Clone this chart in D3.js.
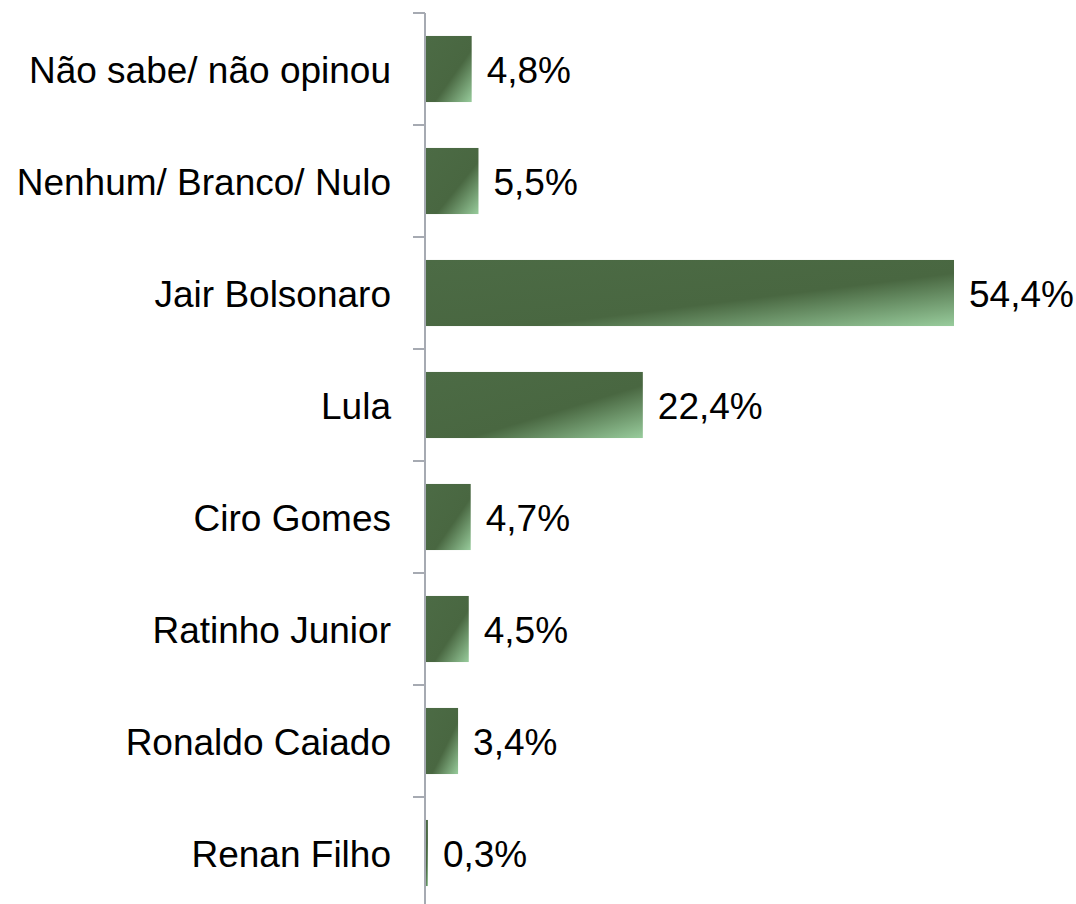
<!DOCTYPE html>
<html lang="pt">

<head>
    <meta charset="UTF-8">
    <title>Intenção de voto</title>
    <style>
        body { margin: 0; background: #fff; }
        text { font-family: "Liberation Sans", Arial, sans-serif; fill: #000; }
        .axis path, .axis line { stroke: #a6aab2; stroke-width: 2; fill: none; }
    </style>
</head>

<body>
    <div id="graph"></div>

    <script src="https://cdnjs.cloudflare.com/ajax/libs/d3/7.0.0/d3.min.js"></script>
    <script>
        // data
        var categories = ["Não sabe/ não opinou", "Nenhum/ Branco/ Nulo", "Jair Bolsonaro", "Lula",
            "Ciro Gomes", "Ratinho Junior", "Ronaldo Caiado", "Renan Filho"];
        var values = [4.8, 5.5, 54.4, 22.4, 4.7, 4.5, 3.4, 0.3];
        var valueLabels = ["4,8%", "5,5%", "54,4%", "22,4%", "4,7%", "4,5%", "3,4%", "0,3%"];

        var data = categories.map((c, i) => ({ name: c, value: values[i], label: valueLabels[i] }));

        var margin = { top: 13, right: 20, bottom: 0, left: 425 },
            width = 1076 - margin.left - margin.right,
            height = 896;

        var svg = d3.select("#graph").append("svg")
            .attr("width", 1076)
            .attr("height", 904);

        var defs = svg.append("defs");
        var grad = defs.append("linearGradient")
            .attr("id", "barGrad")
            .attr("x1", 0).attr("y1", 0).attr("x2", 1).attr("y2", 1);
        grad.append("stop").attr("offset", "0").attr("stop-color", "#4c6b45");
        grad.append("stop").attr("offset", "0.6").attr("stop-color", "#496741");
        grad.append("stop").attr("offset", "1").attr("stop-color", "#98cc9c");

        var g = svg.append("g")
            .attr("transform", "translate(" + margin.left + "," + margin.top + ")");

        var x = d3.scaleLinear().domain([0, 54.4]).range([0, 529]);

        var y = d3.scaleBand()
            .domain(categories)
            .range([0, height])
            .paddingInner(0.41)
            .paddingOuter(0.205);

        g.selectAll(".bar")
            .data(data)
            .enter().append("rect")
            .attr("class", "bar")
            .attr("x", 0)
            .attr("y", d => y(d.name))
            .attr("width", d => x(d.value))
            .attr("height", y.bandwidth())
            .attr("fill", "url(#barGrad)");

        // category boundary ticks
        var yAxis = g.append("g").attr("class", "axis");
        yAxis.append("line")
            .attr("x1", 0).attr("x2", 0)
            .attr("y1", 0).attr("y2", height);
        yAxis.selectAll(".tick")
            .data(d3.range(categories.length + 1))
            .enter().append("line")
            .attr("x1", -12).attr("x2", 0)
            .attr("y1", i => i * y.step())
            .attr("y2", i => i * y.step());

        g.selectAll(".cat")
            .data(data)
            .enter().append("text")
            .attr("class", "cat")
            .attr("x", -34)
            .attr("y", d => y(d.name) + y.bandwidth() / 2)
            .attr("dy", "0.37em")
            .attr("text-anchor", "end")
            .style("font-size", "37px")
            .text(d => d.name);

        g.selectAll(".val")
            .data(data)
            .enter().append("text")
            .attr("class", "val")
            .attr("x", d => x(d.value) + 15)
            .attr("y", d => y(d.name) + y.bandwidth() / 2)
            .attr("dy", "0.37em")
            .style("font-size", "37px")
            .text(d => d.label);
    </script>
</body>

</html>
